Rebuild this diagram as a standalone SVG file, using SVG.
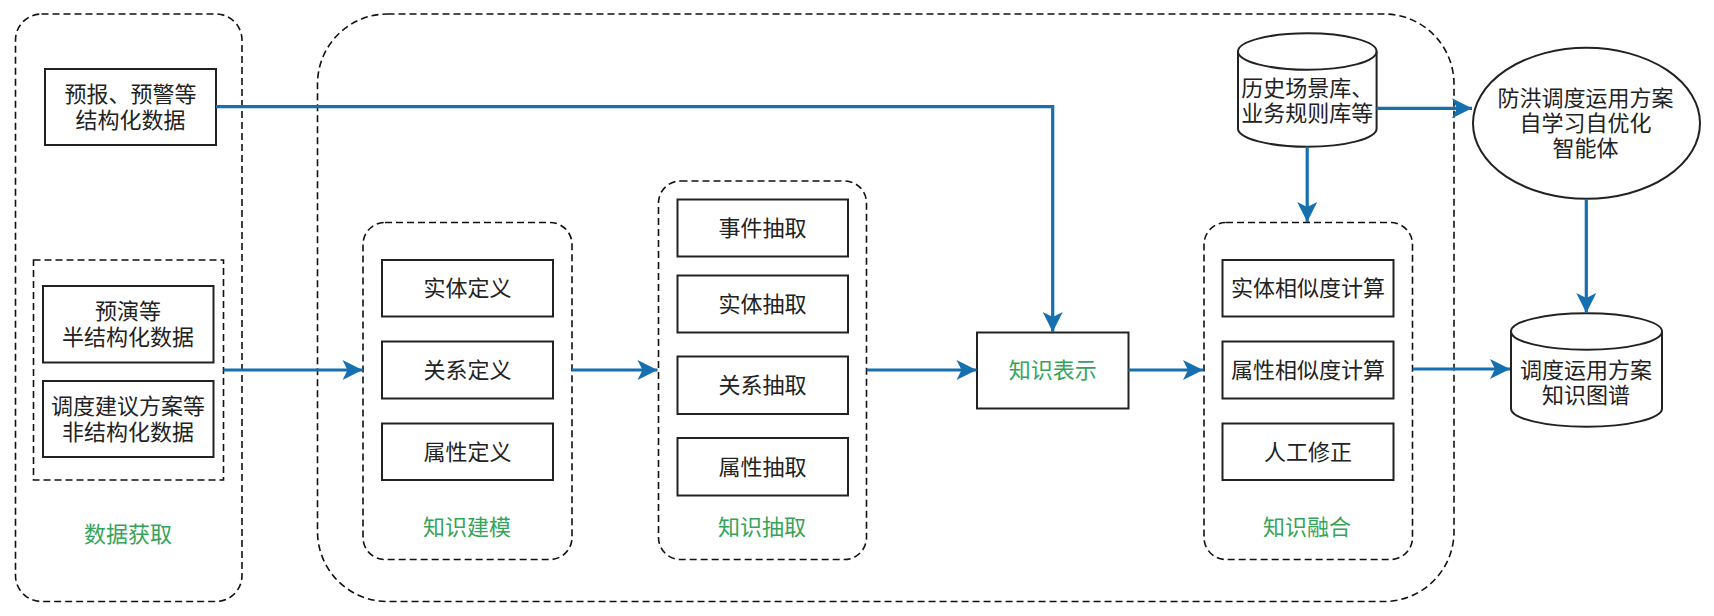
<svg xmlns="http://www.w3.org/2000/svg" width="1714" height="616" viewBox="0 0 1714 616">
<style>
  .dash{fill:none;stroke:#111;stroke-width:1.6;stroke-dasharray:7 4}
  .box{fill:#fff;stroke:#222;stroke-width:2}
  .t{font-family:"Liberation Sans","Noto Sans CJK SC",sans-serif;font-size:22px;fill:#222;text-anchor:middle;dominant-baseline:central}
  .g{fill:#35a45a}
  .conn{fill:none;stroke:#1670af;stroke-width:3.2}
</style>
<defs>
  <marker id="arr" markerUnits="userSpaceOnUse" markerWidth="22" markerHeight="22" viewBox="0 0 22 22" refX="21" refY="11" orient="auto">
    <path d="M1,1 L21,11 L1,21 L6,11 Z" fill="#1670af"/>
  </marker>
</defs>
<rect width="1714" height="616" fill="#fff"/>

<g id="data-acquisition">
  <rect class="dash" x="15.5" y="14" width="226.5" height="587.5" rx="26"/>
  <text class="t g" x="128" y="534">数据获取</text>
</g>
<g id="main-container">
  <rect class="dash" x="317.5" y="14" width="1136.5" height="587.5" rx="70"/>
</g>
<g id="semi-unstructured">
  <rect class="dash" x="33.5" y="260" width="190" height="220"/>
</g>

<g id="structured">
  <rect class="box" x="45" y="69" width="171" height="76"/>
  <text class="t" x="130.5" y="94">预报、预警等</text>
  <text class="t" x="130.5" y="120">结构化数据</text>
</g>
<g id="semi">
  <rect class="box" x="43" y="286" width="170.5" height="76.5"/>
  <text class="t" x="128" y="311">预演等</text>
  <text class="t" x="128" y="337">半结构化数据</text>
</g>
<g id="unstructured">
  <rect class="box" x="43" y="381" width="170.5" height="76"/>
  <text class="t" x="128" y="406">调度建议方案等</text>
  <text class="t" x="128" y="432">非结构化数据</text>
</g>

<g id="knowledge-modeling">
  <rect class="dash" x="363" y="222.5" width="209" height="337" rx="22"/>
  <text class="t g" x="467" y="527">知识建模</text>
</g>
<g id="entity-def">
  <rect class="box" x="382" y="260" width="171" height="56.5"/>
  <text class="t" x="467.5" y="288">实体定义</text>
</g>
<g id="relation-def">
  <rect class="box" x="382" y="341.5" width="171" height="57"/>
  <text class="t" x="467.5" y="370">关系定义</text>
</g>
<g id="attr-def">
  <rect class="box" x="382" y="423.5" width="171" height="56.5"/>
  <text class="t" x="467.5" y="452">属性定义</text>
</g>

<g id="knowledge-extraction">
  <rect class="dash" x="658.5" y="181" width="208" height="378.5" rx="22"/>
  <text class="t g" x="762" y="527">知识抽取</text>
</g>
<g id="event-ext">
  <rect class="box" x="677.5" y="199.5" width="170.5" height="57"/>
  <text class="t" x="762.5" y="228">事件抽取</text>
</g>
<g id="entity-ext">
  <rect class="box" x="677.5" y="275.5" width="170.5" height="57"/>
  <text class="t" x="762.5" y="304">实体抽取</text>
</g>
<g id="relation-ext">
  <rect class="box" x="677.5" y="356.5" width="170.5" height="57.5"/>
  <text class="t" x="762.5" y="385">关系抽取</text>
</g>
<g id="attr-ext">
  <rect class="box" x="677.5" y="438" width="170.5" height="57.5"/>
  <text class="t" x="762.5" y="467">属性抽取</text>
</g>

<g id="knowledge-representation">
  <rect class="box" x="977" y="332.5" width="151.5" height="76"/>
  <text class="t g" x="1052.75" y="370">知识表示</text>
</g>

<g id="knowledge-fusion">
  <rect class="dash" x="1204" y="222.5" width="208.5" height="337" rx="22"/>
  <text class="t g" x="1307" y="527">知识融合</text>
</g>
<g id="entity-sim">
  <rect class="box" x="1222.5" y="260" width="171" height="56.5"/>
  <text class="t" x="1308" y="288">实体相似度计算</text>
</g>
<g id="attr-sim">
  <rect class="box" x="1222.5" y="341.5" width="171" height="57"/>
  <text class="t" x="1308" y="370">属性相似度计算</text>
</g>
<g id="manual-fix">
  <rect class="box" x="1222.5" y="423.5" width="171" height="56.5"/>
  <text class="t" x="1308" y="452">人工修正</text>
</g>

<g id="history-db">
  <path class="box" d="M1238,51.5 A69.3,18.2 0 0 1 1376.6,51.5 V128.5 A69.3,18.2 0 0 1 1238,128.5 Z"/>
  <path class="box" style="fill:none" d="M1238,51.5 A69.3,18.2 0 0 0 1376.6,51.5"/>
  <text class="t" x="1307.3" y="88">历史场景库、</text>
  <text class="t" x="1307.3" y="113">业务规则库等</text>
</g>

<g id="agent">
  <ellipse class="box" cx="1586.5" cy="123.3" rx="113.5" ry="75.5"/>
  <text class="t" x="1585.5" y="98">防洪调度运用方案</text>
  <text class="t" x="1585.5" y="123">自学习自优化</text>
  <text class="t" x="1585.5" y="148">智能体</text>
</g>

<g id="kg-db">
  <path class="box" d="M1511,331.5 A75.5,18.2 0 0 1 1662,331.5 V408.5 A75.5,18.2 0 0 1 1511,408.5 Z"/>
  <path class="box" style="fill:none" d="M1511,331.5 A75.5,18.2 0 0 0 1662,331.5"/>
  <text class="t" x="1586" y="370">调度运用方案</text>
  <text class="t" x="1586" y="395">知识图谱</text>
</g>

<g id="connectors">
  <path class="conn" marker-end="url(#arr)" d="M216,106.7 H1052.7 V332"/>
  <path class="conn" marker-end="url(#arr)" d="M223.5,370 H362.5"/>
  <path class="conn" marker-end="url(#arr)" d="M572,370 H657.5"/>
  <path class="conn" marker-end="url(#arr)" d="M866.7,370 H976.5"/>
  <path class="conn" marker-end="url(#arr)" d="M1128.5,370 H1203"/>
  <path class="conn" marker-end="url(#arr)" d="M1412.6,369 H1510"/>
  <path class="conn" marker-end="url(#arr)" d="M1376.6,108.3 H1472"/>
  <path class="conn" marker-end="url(#arr)" d="M1307.2,146.7 V222"/>
  <path class="conn" marker-end="url(#arr)" d="M1586.3,199 V313"/>
</g>
</svg>
